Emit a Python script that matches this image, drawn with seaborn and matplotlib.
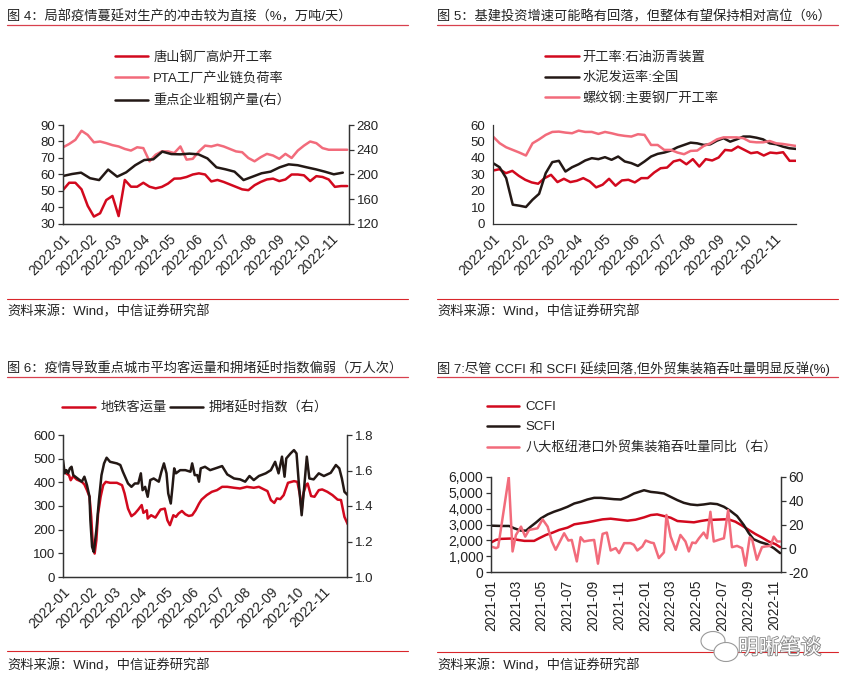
import numpy as np
import pandas as pd
import matplotlib
matplotlib.use('Agg')
import matplotlib.pyplot as plt
import matplotlib.dates as mdates
import matplotlib.ticker as mticker
import matplotlib.patheffects as pe
from matplotlib.lines import Line2D
from matplotlib.patches import Ellipse
import seaborn as sns

# ---- data ----
# fig 4 (weekly / 10-day)
tangshan = [50.6, 55, 55, 51, 41, 34.5, 36.5, 44.5, 47, 34.8, 56.7, 52.6, 52.6, 55, 52.6, 51.6, 52.5, 54.5,
            57.5, 57.6, 58.5, 60, 60.7, 60, 55.8, 56.7, 55.5, 54, 52.5, 51, 50.5, 53.5, 55.5, 57, 57.5, 56,
            57, 60, 60, 59.5, 56, 59, 58.5, 57, 52.5, 53, 53]
pta = [76.5, 78.5, 81, 86.5, 84, 79.5, 80, 79, 77.8, 77, 75.5, 74.5, 76.5, 76, 68, 72, 74, 74, 73, 77,
       69, 69.5, 74, 77.5, 77, 78, 77, 75.5, 74, 73.5, 70, 68, 70.5, 72.5, 71.5, 69.5, 72.5, 70, 74.5,
       77.5, 80, 79, 76, 75, 75, 75, 75]
steel_out = [197.6, 200.8, 203, 194, 191, 208, 196.5, 203.5, 215, 223.4, 224.5, 237, 233, 232.6, 233.7,
             232.6, 226, 211.6, 208.4, 204.6, 191, 196.5, 202, 204.6, 211.6, 216.4, 215, 211.6, 208.4,
             204.6, 200.3, 203]

# fig 5 (weekly)
asphalt = [32.4, 33.2, 30.8, 32.2, 29.2, 26.8, 25.2, 24.4, 27.8, 29.8, 25.4, 27.4, 25.4, 26.2, 27.8, 25.8,
           22.2, 23.8, 27.4, 23.2, 26.4, 26.8, 25.2, 27.8, 27.8, 31.2, 33.8, 34.2, 37.9, 38.9, 36.2, 39.3,
           34.8, 39.3, 38.5, 40.3, 44.9, 44.5, 46.9, 44.9, 42.9, 43.5, 41.5, 43.3, 42.9, 43.5, 38.3, 38.3]
cement = [36.9, 34.4, 27.8, 11.7, 11.1, 10.3, 14.7, 18.3, 30.8, 37.5, 38.3, 31.8, 34.4, 36.2, 38.5, 39.9,
          39.3, 40.5, 38.9, 40.9, 37.9, 36.9, 35.2, 37.9, 40.9, 42.5, 43.3, 44.5, 46.5, 47.9, 49.3, 48.9,
          47.9, 48.3, 50.5, 52, 49.9, 51.3, 53, 53, 52.3, 51.3, 48.9, 48.3, 46.9, 45.9, 45.5]
rebar = [53, 49, 46.5, 44.9, 43.3, 41.5, 48.9, 51.3, 54, 55.8, 56, 55.4, 55, 56.6, 55.8, 55.8, 54.6, 55.8,
         55, 54, 53.4, 53, 54.4, 54, 47.9, 47.9, 44.9, 44.9, 43.3, 42.3, 44.3, 44.5, 47.3, 48.9, 51.3,
         52.5, 52.5, 52.5, 52, 49.9, 49.5, 49.5, 50.3, 48.9, 48.5, 47.9, 47.3]

# fig 6 (days since 2022-01-01)
metro_day = [0, 4, 7, 9, 12, 16, 22, 25, 28, 31, 33, 35, 37, 39, 41, 44, 47, 50, 55, 63, 69, 72, 76, 80, 84,
             88, 92, 94, 98, 99, 103, 108, 114, 119, 122, 125, 129, 132, 135, 139, 143, 147, 151, 155, 159,
             162, 168, 174, 180, 186, 192, 200, 207, 215, 223, 229, 235, 239, 243, 247, 250, 254, 258, 263,
             270, 274, 277, 279, 281, 284, 286, 290, 294, 299, 303, 309, 315, 321, 325, 329, 333]
metro = [452, 437, 430, 409, 426, 412, 402, 391, 367, 339, 254, 127, 99, 155, 268, 339, 388, 402, 398, 398,
         388, 353, 289, 257, 268, 285, 304, 271, 282, 247, 261, 251, 285, 289, 240, 219, 261, 254, 268, 279,
         265, 258, 261, 282, 310, 327, 346, 360, 367, 381, 381, 377, 374, 381, 377, 381, 370, 363, 325, 313,
         332, 329, 346, 398, 405, 402, 346, 282, 353, 388, 395, 342, 339, 367, 370, 360, 346, 327, 325, 254, 222]
cong_day = [0, 2, 4, 6, 8, 10, 12, 16, 22, 25, 28, 31, 32, 34, 36, 39, 42, 45, 48, 51, 55, 63, 67, 70, 76,
            80, 84, 88, 91, 93, 96, 99, 102, 106, 112, 115, 118, 121, 123, 126, 128, 130, 132, 137, 143, 149,
            151, 154, 157, 159, 161, 166, 172, 180, 186, 192, 200, 207, 213, 218, 223, 229, 237, 243, 248,
            252, 256, 259, 261, 266, 270, 273, 276, 279, 282, 285, 288, 293, 299, 305, 313, 319, 323, 326,
            329, 333]
congestion = [1.659, 1.584, 1.602, 1.584, 1.612, 1.621, 1.574, 1.559, 1.537, 1.565, 1.518, 1.452, 1.320,
              1.170, 1.141, 1.264, 1.433, 1.574, 1.640, 1.672, 1.649, 1.640, 1.631, 1.593, 1.527, 1.508,
              1.527, 1.527, 1.584, 1.489, 1.508, 1.452, 1.546, 1.555, 1.537, 1.593, 1.640, 1.584, 1.471,
              1.414, 1.508, 1.612, 1.584, 1.602, 1.602, 1.593, 1.640, 1.574, 1.574, 1.537, 1.612, 1.621,
              1.602, 1.615, 1.625, 1.578, 1.555, 1.550, 1.537, 1.569, 1.546, 1.569, 1.584, 1.602, 1.649,
              1.584, 1.678, 1.565, 1.668, 1.696, 1.715, 1.696, 1.508, 1.348, 1.508, 1.678, 1.555, 1.550,
              1.584, 1.569, 1.587, 1.631, 1.612, 1.555, 1.480, 1.461]

# fig 7 (days since 2021-01-01)
ccfi_day = [0, 12, 24, 47, 63, 79, 102, 114, 130, 146, 161, 181, 197, 212, 228, 244, 264, 283, 303, 323,
            342, 362, 378, 393, 409, 425, 441, 460, 480, 496, 511, 531, 551, 562, 578, 594, 610, 625, 641,
            657, 673, 684]
ccfi = [1862, 2030, 2092, 2113, 2030, 1966, 1966, 2133, 2342, 2489, 2656, 2802, 3011, 3074, 3137, 3220,
        3325, 3367, 3304, 3241, 3304, 3450, 3596, 3638, 3534, 3429, 3220, 3178, 3137, 3220, 3283, 3304,
        3325, 3325, 3178, 2928, 2656, 2405, 2175, 1924, 1757, 1569]
scfi_day = [0, 24, 43, 55, 71, 83, 94, 106, 118, 134, 149, 165, 181, 197, 212, 228, 244, 260, 275, 291,
            307, 323, 338, 362, 378, 393, 409, 425, 441, 456, 472, 488, 503, 519, 535, 551, 566, 582, 598,
            610, 621, 637, 653, 669, 684]
scfi = [2928, 2907, 2907, 2760, 2614, 2614, 2865, 3116, 3388, 3638, 3806, 3952, 4119, 4328, 4433, 4579,
        4683, 4683, 4642, 4600, 4579, 4746, 4955, 5164, 5059, 5018, 4955, 4746, 4537, 4370, 4265, 4224,
        4265, 4328, 4287, 4119, 3868, 3534, 2970, 2447, 2071, 1883, 1757, 1506, 1192]
port_day = [0, 12, 17, 42, 51, 59, 71, 81, 90, 110, 122, 134, 144, 153, 165, 173, 183, 191, 203, 212, 220,
            232, 244, 253, 264, 274, 283, 295, 303, 315, 330, 338, 346, 358, 366, 378, 385, 397, 409, 415,
            425, 437, 448, 460, 468, 476, 484, 492, 503, 511, 519, 527, 543, 551, 561, 570, 582, 594, 602,
            612, 618, 629, 641, 649, 661, 669, 677, 684]
port = [1.5, 0.1, 1, 60, -2.7, 11.2, 18.2, 9.8, 15.4, 16.8, 24.3, 18.2, 5.7, -1.3, 7.0, 12.6, 6.5, 7.0,
        -11.1, 9.3, 5.7, 6.5, 7.0, -13, 12.1, 13.2, -1.9, 0.1, -4.1, 4.3, 4.3, 2.9, -1.9, 1.5, 6.5, 4.8,
        4.3, -8.3, -3.5, 28, 9.8, -1.3, 11.2, 5.7, -2.7, 4.8, 4.3, 8.4, 13.2, 8.4, 30.7, 5.7, 7.6, 8.4,
        32.1, 0.9, 2.0, 0.1, -14.7, 9.3, 7.0, -9.7, 0.9, 1.5, 2.0, 9.8, 5.7, 5.7]

titles = ['图 4：局部疫情蔓延对生产的冲击较为直接（%，万吨/天）',
          '图 5：基建投资增速可能略有回落，但整体有望保持相对高位（%）',
          '图 6：疫情导致重点城市平均客运量和拥堵延时指数偏弱（万人次）',
          '图 7:尽管 CCFI 和 SCFI 延续回落,但外贸集装箱吞吐量明显反弹(%)']
source = '资料来源：Wind，中信证券研究部'

RED = '#D2091E'
PINK = '#F26B7B'
BLACK = '#231815'

sns.set_style('white')
plt.rcParams['font.family'] = ['Liberation Sans', 'Noto Sans CJK SC']
plt.rcParams['axes.unicode_minus'] = False

W, H = 848, 687
fig = plt.figure(figsize=(W / 100, H / 100), dpi=100)


def fx(px):
    return px / W


def fy(py):
    return 1 - py / H


def dates_from(start, days):
    return pd.to_datetime(start) + pd.to_timedelta(days, unit='D')


def style_axis(ax, right=False, ysize=9.5):
    ax.spines['top'].set_visible(False)
    for s in ['left', 'bottom', 'right']:
        ax.spines[s].set_color('#333333')
        ax.spines[s].set_linewidth(0.9)
    if not right:
        ax.spines['right'].set_visible(False)
    ax.tick_params(axis='both', direction='out', length=3.5, width=0.9, color='#333333',
                   labelcolor='#222222', pad=2)
    ax.tick_params(axis='y', labelsize=ysize)
    ax.tick_params(axis='x', labelsize=10)
    ax.set_xlabel('')
    ax.set_ylabel('')


def add_frame(x0, x1, ytitle, yline, yfoot, ysrc, title):
    fig.text(fx(x0), fy(ytitle), title, fontsize=9.5, va='center', ha='left', color='#222222')
    fig.add_artist(Line2D([fx(x0), fx(x1)], [fy(yline), fy(yline)], color='#D8404E', lw=0.9))
    fig.add_artist(Line2D([fx(x0), fx(x1)], [fy(yfoot), fy(yfoot)], color='#D9262B', lw=0.8))
    fig.text(fx(x0), fy(ysrc), source, fontsize=9.5, va='center', ha='left', color='#222222')


def date_xaxis(ax, start, end, months, rot):
    ax.set_xlim(pd.to_datetime(start), pd.to_datetime(end))
    ax.xaxis.set_major_locator(mdates.MonthLocator(bymonth=months))
    ax.xaxis.set_major_formatter(mdates.DateFormatter('%Y-%m'))
    for lab in ax.get_xticklabels():
        lab.set_rotation(rot)
        lab.set_rotation_mode('anchor')
        lab.set_ha('right')
        if rot == 90:
            lab.set_va('center')


all_months = list(range(1, 13))
odd_months = [1, 3, 5, 7, 9, 11]

# ---- fig 4 ----
ax1 = fig.add_axes([fx(63), fy(224), fx(349) - fx(63), fy(125) - fy(224)])
d_w = pd.date_range('2022-01-01', periods=len(tangshan), freq='7D')
d_s = pd.date_range('2022-01-01', '2022-11-14', periods=len(steel_out))
sns.lineplot(x=d_w, y=tangshan, ax=ax1, color=RED, lw=1.8, legend=False)
sns.lineplot(x=d_w, y=pta, ax=ax1, color=PINK, lw=1.8, legend=False)
ax1b = ax1.twinx()
sns.lineplot(x=d_s, y=steel_out, ax=ax1b, color=BLACK, lw=1.8, legend=False)
ax1.set_ylim(30, 90)
ax1.set_yticks(range(30, 91, 10))
ax1b.set_ylim(120, 280)
ax1b.set_yticks(range(120, 281, 40))
for a in (ax1, ax1b):
    style_axis(a, right=True)
    date_xaxis(a, '2022-01-01', '2022-11-21', all_months, 45)
fig.legend([ax1.lines[0], ax1.lines[1], ax1b.lines[0]],
           ['唐山钢厂高炉开工率', 'PTA工厂产业链负荷率', '重点企业粗钢产量(右）'],
           loc='upper left', bbox_to_anchor=(fx(115), fy(51)), frameon=False, fontsize=9.5,
           borderpad=0, borderaxespad=0, handlelength=2.5, handletextpad=0.4, labelspacing=0.6)
add_frame(7, 408, 17, 25, 299, 312, titles[0])

# ---- fig 5 ----
ax2 = fig.add_axes([fx(493), fy(224), fx(796) - fx(493), fy(125) - fy(224)])
d_a = pd.date_range('2022-01-01', '2022-11-25', periods=len(asphalt))
d_c = pd.date_range('2022-01-01', '2022-11-25', periods=len(cement))
sns.lineplot(x=d_a, y=asphalt, ax=ax2, color=RED, lw=1.8, legend=False)
sns.lineplot(x=d_c, y=cement, ax=ax2, color=BLACK, lw=1.8, legend=False)
sns.lineplot(x=d_c, y=rebar, ax=ax2, color=PINK, lw=1.8, legend=False)
ax2.set_ylim(0, 60)
ax2.set_yticks(range(0, 61, 10))
style_axis(ax2)
date_xaxis(ax2, '2022-01-01', '2022-11-25', all_months, 45)
fig.legend(ax2.lines[:3], ['开工率:石油沥青装置', '水泥发运率:全国', '螺纹钢:主要钢厂开工率'],
           loc='upper left', bbox_to_anchor=(fx(545), fy(51)), frameon=False, fontsize=9.5,
           borderpad=0, borderaxespad=0, handlelength=2.6, handletextpad=0.25, labelspacing=0.6)
add_frame(437, 838, 17, 25, 299, 312, titles[1])

# ---- fig 6 ----
ax3 = fig.add_axes([fx(63), fy(577), fx(347) - fx(63), fy(435) - fy(577)])
sns.lineplot(x=dates_from('2022-01-01', metro_day), y=metro, ax=ax3, color=RED, lw=1.8, legend=False)
ax3b = ax3.twinx()
sns.lineplot(x=dates_from('2022-01-01', cong_day), y=congestion, ax=ax3b, color=BLACK, lw=1.8,
             legend=False)
ax3.set_ylim(0, 600)
ax3.set_yticks(range(0, 601, 100))
ax3b.set_ylim(1.0, 1.8)
ax3b.set_yticks([1.0, 1.2, 1.4, 1.6, 1.8])
ax3b.yaxis.set_major_formatter(mticker.FormatStrFormatter('%.1f'))
for a in (ax3, ax3b):
    style_axis(a, right=True)
    date_xaxis(a, '2022-01-01', '2022-11-29', all_months, 45)
fig.legend([ax3.lines[0], ax3b.lines[0]], ['地铁客运量', '拥堵延时指数（右）'],
           loc='upper left', bbox_to_anchor=(fx(62), fy(401)), frameon=False, fontsize=9.5, ncol=2,
           borderpad=0, borderaxespad=0, handlelength=2.5, handletextpad=0.4, columnspacing=0.3)
add_frame(7, 408, 369, 377, 651, 666, titles[2])

# ---- fig 7 ----
ax4 = fig.add_axes([fx(491), fy(572), fx(781) - fx(491), fy(477) - fy(572)])
sns.lineplot(x=dates_from('2021-01-01', ccfi_day), y=ccfi, ax=ax4, color=RED, lw=1.8, legend=False)
sns.lineplot(x=dates_from('2021-01-01', scfi_day), y=scfi, ax=ax4, color=BLACK, lw=1.8, legend=False)
ax4b = ax4.twinx()
sns.lineplot(x=dates_from('2021-01-01', port_day), y=port, ax=ax4b, color=PINK, lw=1.8, legend=False)
ax4.set_ylim(0, 6000)
ax4.set_yticks(range(0, 6001, 1000))
ax4.yaxis.set_major_formatter(mticker.StrMethodFormatter('{x:,.0f}'))
ax4b.set_ylim(-20, 60)
ax4b.set_yticks(range(-20, 61, 20))
for a in (ax4, ax4b):
    style_axis(a, right=True, ysize=10)
    date_xaxis(a, '2021-01-01', '2022-11-18', odd_months, 90)
fig.legend([ax4.lines[0], ax4.lines[1], ax4b.lines[0]],
           ['CCFI', 'SCFI', '八大枢纽港口外贸集装箱吞吐量同比（右）'],
           loc='upper left', bbox_to_anchor=(fx(487), fy(401)), frameon=False, fontsize=9.5,
           borderpad=0, borderaxespad=0, handlelength=2.4, handletextpad=0.5, labelspacing=0.6)
add_frame(437, 838, 369, 377, 652, 666, titles[3])

# watermark
for cx, cy, w, h in [(713, 641, 24, 19), (726, 652, 24, 19)]:
    fig.add_artist(Ellipse((fx(cx), fy(cy)), fx(w), h / H, transform=fig.transFigure,
                           facecolor='white', edgecolor='#9a9a9a', lw=0.8, zorder=10))
wm = fig.text(fx(738), fy(648), '明晰笔谈', fontsize=15, color='white', va='center', ha='left',
              zorder=11)
wm.set_path_effects([pe.withStroke(linewidth=1.2, foreground='#888888')])

fig.savefig('out.png', dpi=100, facecolor='white')
